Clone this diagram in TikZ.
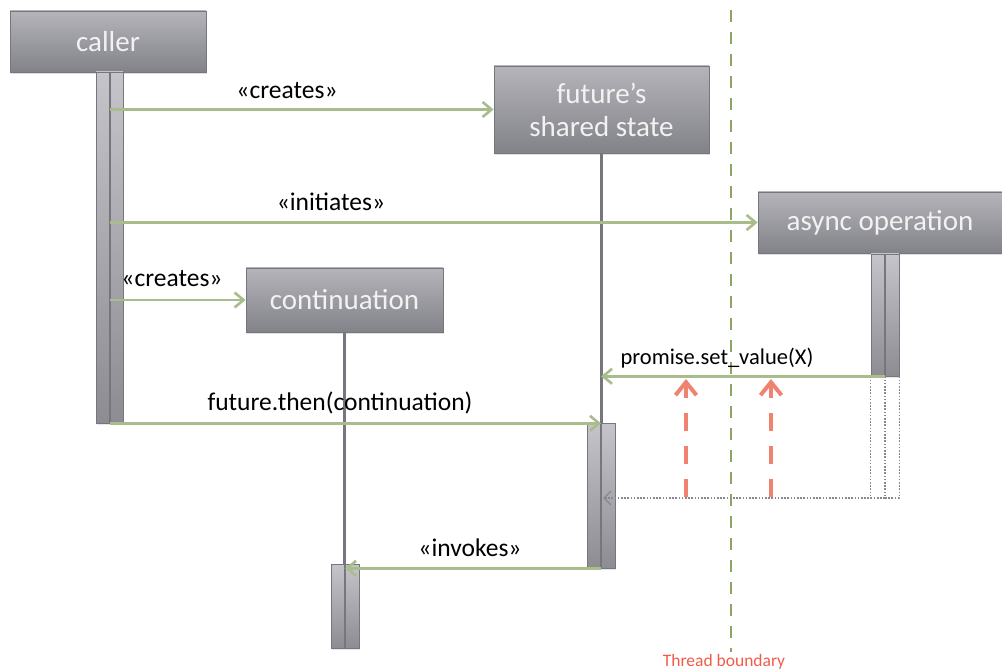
\documentclass[tikz,border=0pt]{standalone}
\usepackage{fontspec}
\setmainfont{Carlito}
\usetikzlibrary{arrows.meta,shadows,calc}
\definecolor{boxtop}{RGB}{180,180,186}
\definecolor{boxbot}{RGB}{130,130,137}
\definecolor{boxline}{RGB}{118,118,124}
\definecolor{acttop}{RGB}{196,196,202}
\definecolor{actbot}{RGB}{140,140,146}
\definecolor{msgc}{RGB}{168,188,140}
\definecolor{lifec}{RGB}{118,118,124}
\definecolor{redc}{RGB}{240,130,112}
\definecolor{threadc}{RGB}{138,166,100}
\definecolor{threadtxt}{RGB}{240,92,72}
\definecolor{dotc}{RGB}{135,135,140}
\begin{document}
\begin{tikzpicture}[x=1pt,y=-1pt,
  obj/.style={rectangle, draw=boxline, line width=0.8pt, top color=boxtop, bottom color=boxbot,
    text=white!95!black, font=\fontsize{29}{33}\selectfont, align=center, inner sep=0pt,
    drop shadow={opacity=0.25,shadow xshift=1pt,shadow yshift=-2pt}},
  act/.style={rectangle, draw=boxline, line width=0.6pt, top color=acttop, bottom color=actbot,
    minimum width=27pt, inner sep=0pt,
    drop shadow={opacity=0.2,shadow xshift=1pt,shadow yshift=-2pt},
    path picture={\draw[lifec, line width=2pt] (path picture bounding box.north) -- (path picture bounding box.south);}},
  msg/.style={draw=msgc, line width=2.6pt, -{Straight Barb[length=9pt,width=15pt]}},
  life/.style={draw=lifec, line width=2.2pt},
  lbl/.style={font=\fontsize{25.5}{28}\selectfont, text=black, inner sep=0pt},
  dotline/.style={draw=dotc, line width=1.2pt, dash pattern=on 1.6pt off 1.6pt},
  redarrow/.style={draw=redc, line width=4pt, dash pattern=on 18pt off 15pt, -{Straight Barb[length=13pt,width=21pt]}},
  thread/.style={draw=threadc, line width=2.6pt, dash pattern=on 12pt off 10pt}
]
\useasboundingbox (0,0) rectangle (1002,671);

% thread boundary
\coordinate (tb1) at (731,10);
\coordinate (tb2) at (731,652);
\draw[thread] (tb1) -- (tb2);
\node[font=\fontsize{17.5}{19}\selectfont, text=threadtxt, inner sep=0pt] (tbl) at (724,662) {Thread boundary};

% objects
\node[obj, minimum width=196pt, minimum height=61pt] (caller) at (108,41.5) {caller};
\node[obj, minimum width=215pt, minimum height=87pt] (fut) at (601.5,109.5) {future’s\\shared state};
\node[obj, minimum width=244pt, minimum height=61pt] (async) at (880,222.5) {async operation};
\node[obj, minimum width=197pt, minimum height=64pt] (cont) at (344.5,300) {continuation};

% lifelines
\node[act, minimum width=28pt, minimum height=145pt] (futact) at (601,495.5) {};
\node[act, minimum width=28pt, minimum height=84pt] (contact) at (345,606) {};
\draw[life] (fut.south) -- (fut.south |- futact.north);
\draw[life] (cont.south) -- (cont.south |- contact.north);
\node[act, minimum height=351pt] (callact) at (109.5,247.5) {};
\node[act, minimum width=28pt, minimum height=122pt] (asyncact) at (885,315) {};

% return (dotted)
\coordinate (ret) at (885,498);
\draw[dotline] (asyncact.south west) -- (asyncact.south west |- ret) -- (ret);
\draw[dotline] (asyncact.south) -- (ret);
\draw[dotline] (asyncact.south east) -- (asyncact.south east |- ret) -- (ret);
\draw[dotline, -{Straight Barb[length=7pt,width=14pt,line width=1.4pt]}] (ret) -- ([xshift=2pt]ret -| futact.north);

% messages
\draw[msg] (callact.center |- fut.west) -- (fut.west);
\node[lbl] (l1) at (287,91) {«creates»};
\draw[msg] (callact.center |- async.west) -- (async.west);
\node[lbl] (l2) at (331,202) {«initiates»};
\draw[msg] (callact.center |- cont.west) -- (cont.west);
\node[lbl] (l3) at (172,279) {«creates»};
\draw[msg] (callact.south) -- (callact.south -| futact.north);
\node[lbl] (l4) at (340,403) {future.then(continuation)};
\draw[msg] (asyncact.south) -- (asyncact.south -| futact.north);
\node[lbl, font=\fontsize{22.5}{26}\selectfont] (l5) at (717,358) {promise.set\_value(X)};
\draw[msg] (futact.south) -- (futact.south -| contact.north);
\node[lbl] (l6) at (470,548) {«invokes»};

% red dashed arrows
\coordinate (r1b) at (686,497);
\coordinate (r1t) at (686,379);
\coordinate (r2b) at (771,497);
\coordinate (r2t) at (771,379);
\draw[redarrow] (r1b) -- (r1t);
\draw[redarrow] (r2b) -- (r2t);
\end{tikzpicture}
\end{document}
